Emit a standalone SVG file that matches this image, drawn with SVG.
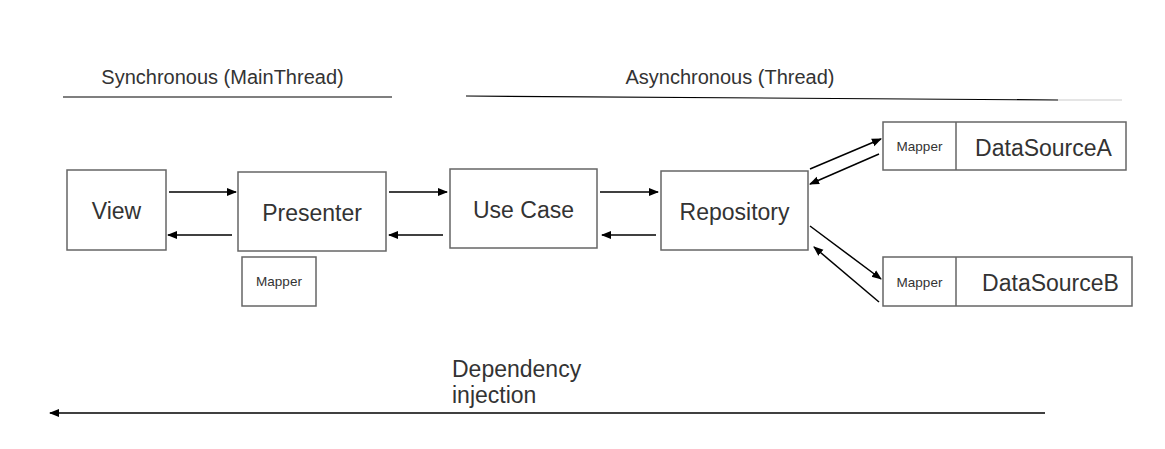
<svg xmlns="http://www.w3.org/2000/svg" width="1165" height="449" viewBox="0 0 1165 449">
<defs>
<marker id="ah" viewBox="0 0 10 10" refX="9" refY="5" markerWidth="10" markerHeight="10" markerUnits="userSpaceOnUse" orient="auto">
<path d="M0,1 L10,5 L0,9 z" fill="#000"/>
</marker>
<style>
.box{fill:#fff;stroke:#666;stroke-width:1.5}
.t{font-family:"Liberation Sans",Arial,sans-serif;fill:#333;text-anchor:middle}
.big{font-size:23px}
.small{font-size:13.5px}
.title{font-size:20px}
.c{stroke:#000;stroke-width:1.5;fill:none;marker-end:url(#ah)}
</style>
</defs>
<rect width="1165" height="449" fill="#fff"/>
<g id="titles">
<text class="t title" x="222.5" y="84">Synchronous (MainThread)</text>
<line x1="63" y1="97" x2="392" y2="97" stroke="#000" stroke-width="1.2"/>
<text class="t title" x="730" y="84">Asynchronous (Thread)</text>
<line x1="466" y1="96" x2="1058" y2="100" stroke="#000" stroke-width="1.2"/>
<line x1="1058" y1="100" x2="1122" y2="100" stroke="#ccc" stroke-width="1.2"/>
</g>
<g id="view"><rect class="box" x="67" y="170" width="99" height="80"/><text class="t big" x="116.5" y="219">View</text></g>
<g id="presenter"><rect class="box" x="238" y="172" width="148" height="79"/><text class="t big" x="312" y="221">Presenter</text></g>
<g id="presenter-mapper"><rect class="box" x="242" y="257" width="74" height="49"/><text class="t small" x="279" y="286">Mapper</text></g>
<g id="usecase"><rect class="box" x="450" y="169" width="147" height="79"/><text class="t big" x="523.5" y="218">Use Case</text></g>
<g id="repository"><rect class="box" x="661" y="171" width="147" height="79"/><text class="t big" x="734.5" y="220">Repository</text></g>
<g id="datasourcea"><rect class="box" x="883" y="122" width="243" height="48"/><line x1="956" y1="122" x2="956" y2="170" stroke="#666" stroke-width="1.5"/><text class="t small" x="919.5" y="151">Mapper</text><text class="t big" x="1043.5" y="156">DataSourceA</text></g>
<g id="datasourceb"><rect class="box" x="883" y="257" width="249" height="49"/><line x1="956" y1="257" x2="956" y2="306" stroke="#666" stroke-width="1.5"/><text class="t small" x="919.5" y="287">Mapper</text><text class="t big" x="1050.5" y="291">DataSourceB</text></g>
<g id="connectors">
<line class="c" x1="169" y1="192" x2="236" y2="192"/>
<line class="c" x1="232" y1="235" x2="168" y2="235"/>
<line class="c" x1="389" y1="192" x2="447" y2="192"/>
<line class="c" x1="443" y1="235" x2="389" y2="235"/>
<line class="c" x1="600" y1="192" x2="658" y2="192"/>
<line class="c" x1="656" y1="235" x2="602" y2="235"/>
<line class="c" x1="810" y1="169" x2="881" y2="139"/>
<line class="c" x1="879" y1="154" x2="810" y2="184"/>
<line class="c" x1="810" y1="226" x2="881" y2="279"/>
<line class="c" x1="879" y1="302" x2="814" y2="247"/>
<line class="c" x1="1045" y1="413" x2="50" y2="413"/>
</g>
<g id="di-label">
<text class="t big" x="452" y="377" style="text-anchor:start">Dependency</text>
<text class="t big" x="452" y="403" style="text-anchor:start">injection</text>
</g>
</svg>
